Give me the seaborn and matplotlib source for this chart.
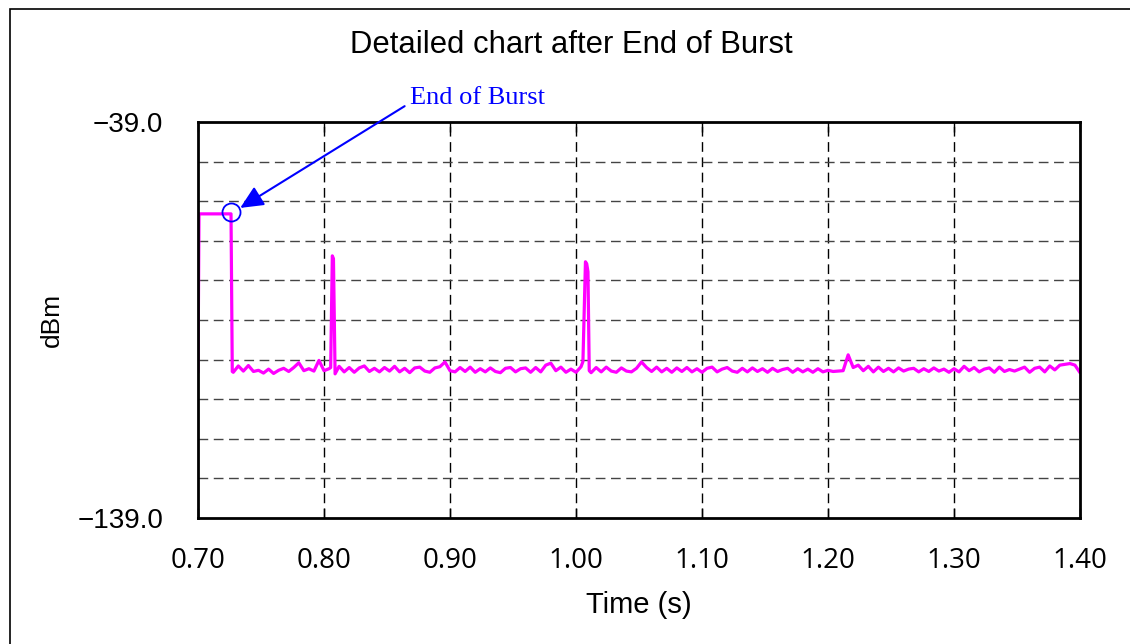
import numpy as np
import pandas as pd
import matplotlib
matplotlib.use("Agg")
import matplotlib.pyplot as plt
from matplotlib.patches import Rectangle
import seaborn as sns

# ---------------- data ----------------
title = "Detailed chart after End of Burst"
x_label = "Time (s)"
y_label = "dBm"
annot_text = "End of Burst"
x_ticks = [0.70, 0.80, 0.90, 1.00, 1.10, 1.20, 1.30, 1.40]
x_tick_labels = ["0.70", "0.80", "0.90", "1.00", "1.10", "1.20", "1.30", "1.40"]
y_min, y_max = -139.0, -39.0
y_tick_labels = {-139: "\u2212139.0", -39: "\u221239.0"}

# burst segment
burst_t = [0.7000, 0.7008, 0.7262, 0.7272]
burst_v = [-102.2, -62.2, -62.2, -102.0]
# end-of-burst marker point
eob_t, eob_v = 0.7258, -61.8

# spikes
spike1_t = [0.8053, 0.8066, 0.8075, 0.8088]
spike1_v = [-101.0, -72.8, -73.5, -102.6]
spike2_t = [1.0055, 1.0075, 1.0085, 1.0095, 1.0105]
spike2_v = [-99.5, -74.3, -74.8, -76.8, -101.8]

# noise floor, sampled every 4 ms from 0.728 s to 1.400 s
noise_start, noise_step = 0.728, 0.004
noise_v = [
    -102.2, -100.6, -101.9, -100.5, -102.0, -101.7, -102.4, -101.4, -102.5, -101.7,
    -101.2, -102.0, -101.0, -99.8, -101.8, -101.3, -101.9, -99.2, -101.8, -101.3,
    -101.5, -100.7, -102.1, -101.0, -102.2, -101.1, -100.6, -102.0, -101.2, -102.1,
    -101.0, -101.9, -100.7, -102.1, -101.2, -102.3, -101.1, -100.9, -101.9, -102.2,
    -101.1, -100.8, -99.6, -101.8, -102.1, -101.0, -102.0, -100.9, -102.2, -101.3,
    -102.1, -101.1, -102.0, -102.3, -101.2, -101.0, -102.1, -101.3, -101.1, -102.2,
    -101.0, -102.1, -100.4, -99.9, -101.8, -100.9, -102.2, -101.4, -102.2, -100.8,
    -101.5, -102.3, -101.0, -102.1, -100.9, -101.9, -102.2, -101.1, -101.9, -102.1,
    -101.2, -99.6, -101.0, -102.0, -100.9, -102.1, -101.2, -102.2, -101.1, -102.0,
    -101.0, -102.1, -101.3, -102.2, -101.2, -100.9, -102.1, -101.4, -101.0, -101.9,
    -102.2, -101.2, -102.1, -101.1, -102.0, -101.3, -102.2, -101.2, -102.0, -101.5,
    -101.2, -102.2, -101.3, -102.1, -101.4, -102.2, -101.3, -102.1, -101.7, -102.0,
    -101.9, -101.8, -97.8, -101.0, -100.4, -101.8, -100.7, -102.1, -100.9, -102.0,
    -101.2, -102.1, -101.1, -101.9, -101.4, -101.2, -102.1, -101.3, -102.0, -101.1,
    -101.9, -101.4, -102.2, -101.3, -102.1, -100.7, -101.8, -101.0, -102.1, -101.4,
    -101.1, -102.2, -100.9, -102.0, -101.5, -101.9, -101.4, -100.9, -102.2, -101.2,
    -100.9, -102.1, -100.6, -101.6, -100.4, -100.2, -100.0, -100.4, -102.3,
]

# ---------------- assemble the trace ----------------
noise_t = [round(noise_start + i * noise_step, 4) for i in range(len(noise_v))]
windows = [(spike1_t[0], spike1_t[-1]), (spike2_t[0], spike2_t[-1])]
keep = [(t, v) for t, v in zip(noise_t, noise_v)
        if not any(a <= t <= b for a, b in windows)]
pts = list(zip(burst_t, burst_v)) + list(zip(spike1_t, spike1_v)) + \
      list(zip(spike2_t, spike2_v)) + keep
pts.sort(key=lambda p: p[0])
df = pd.DataFrame(pts, columns=["t", "v"])

# ---------------- plotting ----------------
sns.set_style("white")
plt.rcParams["font.family"] = ["Liberation Sans", "DejaVu Sans"]
plt.rcParams.update({"text.color": "black", "axes.labelcolor": "black",
                     "xtick.color": "black", "ytick.color": "black"})

fig = plt.figure(figsize=(11.30, 6.44), dpi=100)
ax = fig.add_axes([198 / 1130, 1 - 518 / 644, 882 / 1130, 396 / 644])

sns.lineplot(data=df, x="t", y="v", ax=ax, color="#FF00FF", linewidth=2.3,
             sort=False, estimator=None)

ax.set_xlim(0.70, 1.40)
ax.set_ylim(y_min, y_max)

# grid
for xv in x_ticks[1:-1]:
    ax.axvline(xv, color="black", lw=1.0, ls=(0, (7, 4)), zorder=0)
for yv in np.arange(y_min + 10, y_max, 10):
    ax.axhline(yv, color="#444444", lw=1.0, ls=(0, (7, 4)), zorder=0)

ax.set_xticks(x_ticks)
ax.set_xticklabels(x_tick_labels, fontsize=20,
                   family=["Open Sans", "DejaVu Sans"])
ax.tick_params(axis="x", direction="in", top=True, bottom=True, length=7,
               width=1, pad=21, colors="black")
yt = list(y_tick_labels.keys())
ax.set_yticks(yt)
ax.set_yticklabels([y_tick_labels[k] for k in yt], fontsize=20)
ax.tick_params(axis="y", length=0, pad=25)

for s in ax.spines.values():
    s.set_visible(True)
    s.set_color("black")
    s.set_linewidth(2.0)

ax.set_xlabel(x_label, fontsize=21)
ax.xaxis.set_label_coords(0.5, -0.185)
ax.set_ylabel(y_label, fontsize=19)
ax.yaxis.set_label_coords(-0.152, 0.5)

fig.text(571 / 1130, 1 - 45 / 644, title, fontsize=22.3, ha="center", va="center")

# annotation
ax.plot([eob_t], [eob_v], marker="o", ms=13, mfc="none", mec="#0000FF",
        mew=1.3, zorder=5)
ax.annotate("", xy=(0.7335, -60.7), xytext=(0.8640, -35.0),
            arrowprops=dict(arrowstyle="-|>,head_length=1.4,head_width=0.65",
                            color="#0000FF", lw=1.5, shrinkA=0, shrinkB=0),
            annotation_clip=False)
ax.text(0.8683, -33.0, annot_text, fontsize=19, color="#0000FF",
        family=["Liberation Serif", "DejaVu Serif"], ha="left", va="center",
        clip_on=False)

# outer frame
fig.patches.append(Rectangle((10 / 1130, -0.05), 1.2, 1.05 - 9 / 644,
                             transform=fig.transFigure, fill=False,
                             edgecolor="black", lw=1.2))

fig.savefig("out.png", dpi=100)
